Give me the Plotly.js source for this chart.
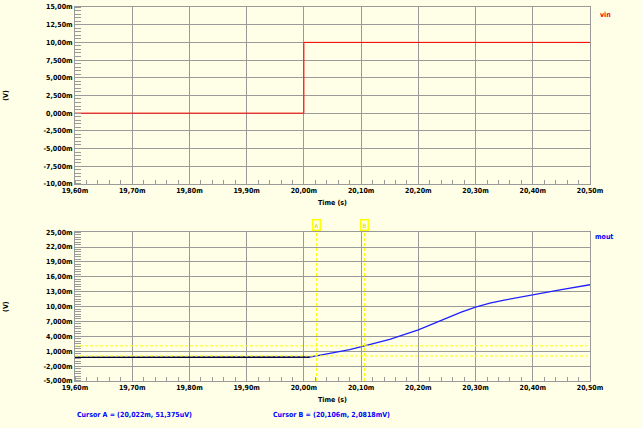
<!DOCTYPE html>
<html><head><meta charset="utf-8">
<script src="https://cdn.plot.ly/plotly-3.0.1.min.js"></script>
<style>html,body{margin:0;padding:0;background:#FFFFE8;}#c{width:642px;height:428px;}</style>
</head><body><div id="c"></div>
<script>
// Data (time in ms, voltage in mV)
const vinTime = [19.6, 20.0, 20.5];
const vinVal = [0, 10, 10];
const moutTime = [19.6, 19.8, 20.0, 20.01, 20.022, 20.05, 20.08, 20.106, 20.15, 20.2, 20.225, 20.25, 20.275, 20.3, 20.325, 20.35, 20.375, 20.4, 20.45, 20.5];
const moutVal = [-0.25, -0.25, -0.25, -0.2, 0.05, 0.6, 1.3, 2.08, 3.4, 5.3, 6.5, 7.7, 8.9, 9.9, 10.7, 11.3, 11.85, 12.4, 13.4, 14.4];
const xTicks = [19.6, 19.7, 19.8, 19.9, 20.0, 20.1, 20.2, 20.3, 20.4, 20.5];
const xTickText = ["19,60m", "19,70m", "19,80m", "19,90m", "20,00m", "20,10m", "20,20m", "20,30m", "20,40m", "20,50m"];
const y1Ticks = [15, 12.5, 10, 7.5, 5, 2.5, 0, -2.5, -5, -7.5, -10];
const y1TickText = ["15,00m", "12,50m", "10,00m", "7,500m", "5,000m", "2,500m", "0,000m", "-2,500m", "-5,000m", "-7,500m", "-10,00m"];
const y2Ticks = [25, 22, 19, 16, 13, 10, 7, 4, 1, -2, -5];
const y2TickText = ["25,00m", "22,00m", "19,00m", "16,00m", "13,00m", "10,00m", "7,000m", "4,000m", "1,000m", "-2,000m", "-5,000m"];
const cursorNames = ["A", "B"];
const cursorTime = [20.022, 20.106];
const cursorVal = [0.051375, 2.0818];
const cursorText = ["Cursor A = (20,022m, 51,375uV)", "Cursor B = (20,106m, 2,0818mV)"];

const bg = '#FFFFE8', grid = '#9a9a9a';
const fam = 'DejaVu Sans Condensed, DejaVu Sans';
const tickFont = {family: fam, size: 7, color: '#000', weight: 'bold'};
function xax(anchor) {
  return {range: [19.6, 20.5], tickvals: xTicks, ticktext: xTickText, tickfont: tickFont,
    showgrid: true, gridcolor: grid, gridwidth: 1, showline: true, linecolor: grid, mirror: true,
    ticks: '', zeroline: false, anchor: anchor, fixedrange: true, tickangle: 0,
    minor: {dtick: 0.02, ticks: 'inside', ticklen: 4, tickcolor: grid, showgrid: false},
    title: {text: 'Time (s)', font: {family: fam, size: 7, color: '#000', weight: 'bold'}, standoff: 5}};
}
function yax(range, tv, tt, dom, anchor, minorD) {
  return {range: range, tickvals: tv, ticktext: tt, tickfont: tickFont, domain: dom,
    showgrid: true, gridcolor: grid, gridwidth: 1, showline: true, linecolor: grid, mirror: true,
    ticks: '', zeroline: false, anchor: anchor, fixedrange: true,
    minor: {dtick: minorD, ticks: 'inside', ticklen: 6, tickcolor: grid, showgrid: false},
    title: {text: '(V)', font: {family: fam, size: 7, color: '#000', weight: 'bold'}, standoff: 34}};
}

const splitIdx = moutTime.findIndex(t => t > 20.01);
const traces = [
  {x: vinTime, y: vinVal, xaxis: 'x', yaxis: 'y', mode: 'lines', line: {color: '#ff0000', width: 1, shape: 'hv'}, name: 'vin', showlegend: false},
  {x: moutTime, y: moutVal, xaxis: 'x2', yaxis: 'y2', mode: 'lines', line: {color: '#2020ff', width: 1.3}, name: 'mout', showlegend: false},
  {x: moutTime.slice(0, splitIdx), y: moutVal.slice(0, splitIdx), xaxis: 'x2', yaxis: 'y2', mode: 'lines', line: {color: '#000033', width: 1.3}, showlegend: false}
];

const shapes = [];
const annotations = [
  {xref: 'paper', yref: 'paper', x: 1.015, y: 0.995, xanchor: 'left', yanchor: 'top', text: 'vin', showarrow: false, font: {family: fam, size: 7, color: '#ff0000', weight: 'bold'}},
  {xref: 'paper', yref: 'paper', x: 1.005, y: 0.4, xanchor: 'left', yanchor: 'top', text: 'mout', showarrow: false, font: {family: fam, size: 7, color: '#0000ff', weight: 'bold'}}
];
cursorTime.forEach((t, i) => {
  shapes.push({type: 'line', xref: 'x2', yref: 'paper', x0: t, x1: t, y0: 0, y1: 0.4, line: {color: '#ffff00', width: 1, dash: '3px,2px'}});
  shapes.push({type: 'line', xref: 'paper', yref: 'y2', x0: 0, x1: 1, y0: cursorVal[i], y1: cursorVal[i], line: {color: '#ffff00', width: 1, dash: '3px,2px'}});
  annotations.push({xref: 'x2', yref: 'paper', x: t, y: 0.4, yanchor: 'bottom', xanchor: 'center', text: cursorNames[i], showarrow: false,
    font: {family: fam, size: 6, color: '#cccc00'}, bordercolor: '#ffff00', borderwidth: 1.5, borderpad: 1, bgcolor: bg});
  annotations.push({xref: 'paper', yref: 'paper', x: i === 0 ? 0.0 : 0.381, y: -0.09, xanchor: 'left', yanchor: 'middle', text: cursorText[i], showarrow: false,
    font: {family: fam, size: 7, color: '#0000ff', weight: 'bold'}});
});

const layout = {
  width: 642, height: 428, paper_bgcolor: bg, plot_bgcolor: bg,
  margin: {l: 75, r: 52, t: 7, b: 47},
  showlegend: false,
  xaxis: xax('y'), yaxis: yax([-10, 15], y1Ticks, y1TickText, [0.527, 1], 'x', 0.5),
  xaxis2: xax('y2'), yaxis2: yax([-5, 25], y2Ticks, y2TickText, [0, 0.398], 'x2', 0.5),
  shapes: shapes, annotations: annotations
};
Plotly.newPlot('c', traces, layout, {staticPlot: true, displayModeBar: false});
</script></body></html>
